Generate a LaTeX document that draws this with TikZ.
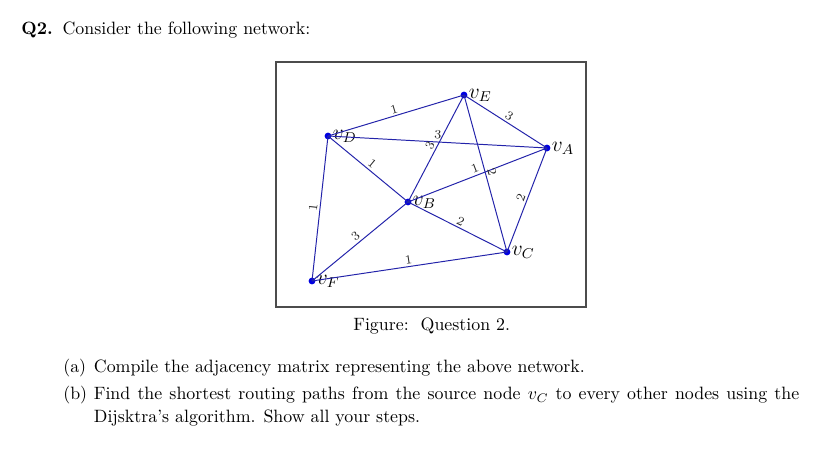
\documentclass[tikz,border=0pt]{standalone}
\definecolor{edgeblue}{RGB}{35,35,170}
\definecolor{dotblue}{RGB}{0,0,225}
\begin{document}
\begin{tikzpicture}[x=0.56pt,y=-0.56pt,
  dot/.style={circle,fill=dotblue,inner sep=0pt,minimum size=3.8pt},
  con/.style={draw=edgeblue,line width=0.55pt},
  wt/.style={sloped,above,font=\scriptsize,inner sep=1.2pt,text=black!85},
  vlab/.style={inner sep=0.4pt,font=\fontsize{11.5}{13}\selectfont},
  txt/.style={anchor=base west,inner sep=0pt,font=\fontsize{10}{12}\selectfont}]
\useasboundingbox (0,0) rectangle (832,457);
\fill[white] (0,0) rectangle (832,457);
% frame
\draw[line width=0.6pt,black!70] (276,62) rectangle (586,307);
% vertices
\node[dot,label={[vlab,label distance=0pt]right:$v_E$}] (vE) at (464,95) {};
\node[dot,label={[vlab,label distance=0pt]right:$v_D$}] (vD) at (328,136) {};
\node[dot,label={[vlab,label distance=0pt]right:$v_A$}] (vA) at (547,148) {};
\node[dot,label={[vlab,label distance=0pt]right:$v_B$}] (vB) at (408,202) {};
\node[dot,label={[vlab,label distance=0pt]right:$v_C$}] (vC) at (507,252) {};
\node[dot,label={[vlab,label distance=0pt]right:$v_F$}] (vF) at (312,281) {};
% connectors
\draw[con] (vD.center) -- node[wt] {1} (vE.center);
\draw[con] (vE.center) -- node[wt] {3} (vA.center);
\draw[con] (vD.center) -- node[wt] {3} (vA.center);
\draw[con] (vE.center) -- node[wt] {3} (vB.center);
\draw[con] (vD.center) -- node[wt] {1} (vB.center);
\draw[con] (vB.center) -- node[wt] {1} (vA.center);
\draw[con] (vE.center) -- node[wt] {2} (vC.center);
\draw[con] (vA.center) -- node[wt] {2} (vC.center);
\draw[con] (vB.center) -- node[wt] {2} (vC.center);
\draw[con] (vD.center) -- node[wt] {1} (vF.center);
\draw[con] (vF.center) -- node[wt] {3} (vB.center);
\draw[con] (vF.center) -- node[wt] {1} (vC.center);
% texts
\node[txt] (q) at (21,35) {\textbf{Q2.}\hspace{0.55em}Consider the following network:};
\node[txt] (cap) at (353,331) {Figure:\ \ Question 2.};
\node[txt] (ia) at (63,373) {(a)};
\node[txt] (ta) at (93.5,373) {Compile the adjacency matrix representing the above network.};
\node[txt] (ib) at (63,400) {(b)};
\node[txt] (tb) at (93.5,400) {\hbox to 395pt{Find the shortest routing paths from the source node $v_C$ to every other nodes using the}};
\node[txt] (tb2) at (93.5,423) {Dijsktra's algorithm. Show all your steps.};
\end{tikzpicture}
\end{document}
